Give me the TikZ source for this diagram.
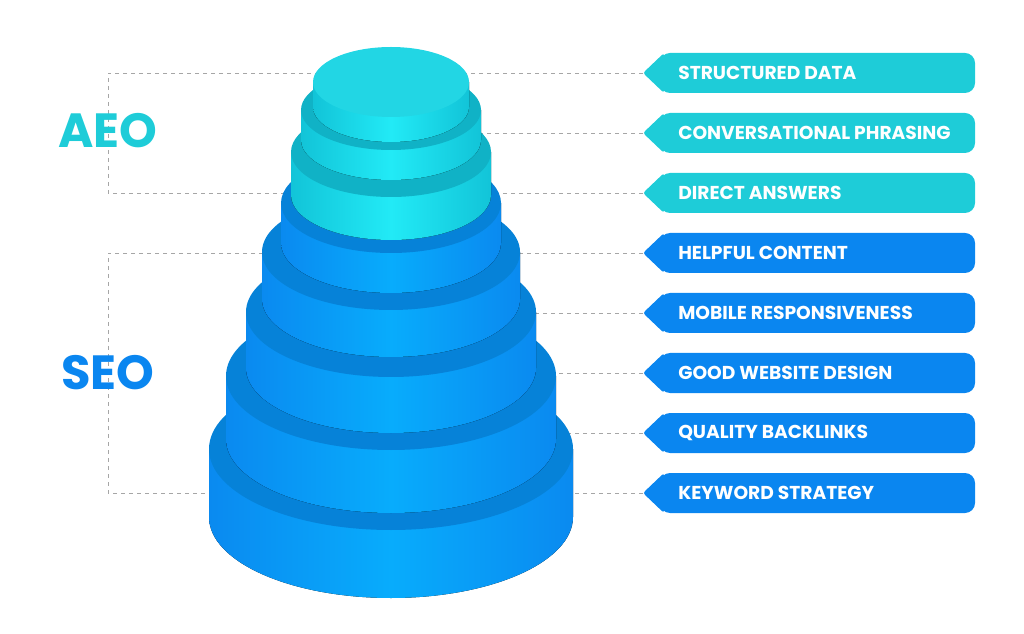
\documentclass[tikz,border=0pt]{standalone}
\usepackage{fontspec}
\setmainfont{Poppins}
\usetikzlibrary{positioning}

\definecolor{aeoside}{HTML}{12C4D8}
\definecolor{aeomid}{HTML}{22EAF6}
\definecolor{aeotop}{HTML}{10B2C6}
\definecolor{aeocap}{HTML}{22D6E4}
\definecolor{seoside}{HTML}{0A8AF0}
\definecolor{seomid}{HTML}{08ACFC}
\definecolor{seotop}{HTML}{0682D8}
\definecolor{tagaeo}{HTML}{1ECCD8}
\definecolor{tagseo}{HTML}{0A86F0}

\tikzset{
  guide/.style={gray!70, dashed, line width=0.6pt},
  tag/.style={text=white, font=\fontsize{14}{16}\selectfont\bfseries, anchor=west,
    inner sep=0pt},
  group/.style={font=\fontsize{36}{40}\selectfont\bfseries}
}

% tier: rx, ry, top y, bottom y, side colour, middle colour, top colour
\newcommand{\tier}[7]{
  \fill[left color=#5, right color=#5, middle color=#6]
    (391-#1,#3) -- (391-#1,#4) arc[start angle=180, end angle=0, x radius=#1, y radius=#2]
    -- (391+#1,#3) -- cycle;
  \fill[#7] (391,#3) ellipse[x radius=#1, y radius=#2];
}

% tag: name, y, colour, text
\newcommand{\tagbox}[4]{
  \fill[#3, rounded corners=10*0.75pt] (660,#2-20) -- (975,#2-20) -- (975,#2+20) -- (660,#2+20) -- cycle;
  \fill[#3, rounded corners=2pt] (664,#2-20) -- (643,#2) -- (664,#2+20) -- cycle;
  \node[tag] (#1) at (678,#2) {#4};
  \coordinate (#1tip) at (643,#2);
  \draw[guide] (391,#2) -- (#1tip);
}

\begin{document}
\begin{tikzpicture}[x=0.75pt, y=-0.75pt]
  \useasboundingbox (0,0) rectangle (1024,634);

  %% labels
  \tagbox{data}{73}{tagaeo}{STRUCTURED DATA}
  \tagbox{phrasing}{133}{tagaeo}{CONVERSATIONAL PHRASING}
  \tagbox{answers}{193}{tagaeo}{DIRECT ANSWERS}
  \tagbox{content}{253}{tagseo}{HELPFUL CONTENT}
  \tagbox{mobile}{313}{tagseo}{MOBILE RESPONSIVENESS}
  \tagbox{design}{373}{tagseo}{GOOD WEBSITE DESIGN}
  \tagbox{backlinks}{433}{tagseo}{QUALITY BACKLINKS}
  \tagbox{keyword}{493}{tagseo}{KEYWORD STRATEGY}

  %% brackets
  \coordinate (aeotop) at (108,73);
  \coordinate (aeobot) at (108,193);
  \coordinate (seotop) at (108,253);
  \coordinate (seobot) at (108,493);
  \draw[guide] (391,73) -- (aeotop) -- (aeobot) -- (391,193);
  \draw[guide] (391,253) -- (seotop) -- (seobot) -- (391,493);
  \node[group, text=tagaeo] (aeo) at (108,131) {AEO};
  \node[group, text=tagseo] (seo) at (108,373) {SEO};

  %% stack
  \tier{182}{81}{449}{517}{seoside}{seomid}{seotop}
  \tier{165}{74}{376}{439}{seoside}{seomid}{seotop}
  \tier{145}{65}{312}{368}{seoside}{seomid}{seotop}
  \tier{129}{58}{252}{299}{seoside}{seomid}{seotop}
  \tier{110}{50}{203}{243}{seoside}{seomid}{seotop}
  \tier{100}{45}{152}{195}{aeoside}{aeomid}{aeotop}
  \tier{90}{40}{110}{140}{aeoside}{aeomid}{aeotop}
  \tier{78}{35}{82}{107}{aeoside}{aeomid}{aeocap}
\end{tikzpicture}
\end{document}
